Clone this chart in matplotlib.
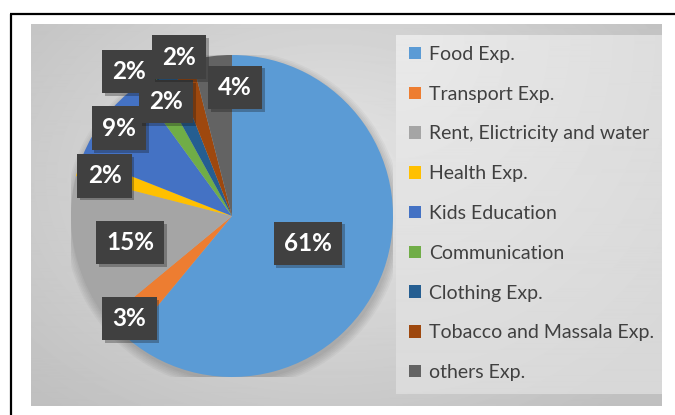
import matplotlib.pyplot as plt
import matplotlib.patheffects as pe
from matplotlib.patches import Patch, Circle
import numpy as np

# household expenditure shares (%)
categories = ["Food Exp.", "Transport Exp.", "Rent, Elictricity and water", "Health Exp.",
              "Kids Education", "Communication", "Clothing Exp.", "Tobacco and Massala Exp.",
              "others Exp."]
shares = [61, 3, 15, 2, 9, 2, 2, 2, 4]
colors = ["#5B9BD5", "#ED7D31", "#A5A5A5", "#FFC000", "#4472C4", "#70AD47", "#255E91",
          "#9E480E", "#636363"]

# where the data labels sit: radius as fraction of pie radius, angle nudge in degrees
label_r = [0.50, 0.90, 0.655, 0.83, 0.89, 1.10, 0.82, 1.04, 0.80]
label_nudge = [0, 0, 2, 0.5, 0, 3, 4.7, 0.4, -8.5]

W, H = 675, 415
fig = plt.figure(figsize=(W / 100, H / 100), dpi=100)

# background layer in pixel coordinates
bg = fig.add_axes([0, 0, 1, 1])
bg.axis("off")

# chart area with a soft radial gradient
yy, xx = np.mgrid[25:406, 31:662]
d = np.hypot((xx - 330) / 430, (yy - 180) / 300)
shade = 0.90 - 0.15 * np.clip(d, 0, 1)
bg.imshow(shade, cmap="gray", vmin=0, vmax=1, extent=(31, 662, 406, 25),
          aspect="auto", interpolation="bilinear", zorder=0)

# legend panel, a bit lighter
yy, xx = np.mgrid[36:394, 396:662]
d = np.hypot((xx - 396) / 380, (yy - 36) / 420)
shade = 0.915 - 0.07 * np.clip(d, 0, 1)
bg.imshow(shade, cmap="gray", vmin=0, vmax=1, extent=(396, 662, 394, 36),
          aspect="auto", interpolation="bilinear", zorder=1)

# outer frame (top and left edges visible)
bg.plot([10, W], [14, 14], color="black", lw=1.6, solid_capstyle="butt", zorder=2)
bg.plot([11, 11], [14, H], color="black", lw=1.6, solid_capstyle="butt", zorder=2)
bg.set_xlim(0, W)
bg.set_ylim(H, 0)

# pie
cx, cy, R = 232, 216, 161
pax = fig.add_axes([(cx - R) / W, (H - cy - R) / H, 2 * R / W, 2 * R / H])
for i in range(6):
    pax.add_patch(Circle((0.01, -0.025), 1 + 0.01 * i, facecolor="black",
                         alpha=0.03, linewidth=0, zorder=0))
wedges, _ = pax.pie(shares, colors=colors, startangle=90, counterclock=False,
                    radius=1, wedgeprops=dict(linewidth=0, zorder=1))
pax.set_xlim(-1, 1)
pax.set_ylim(-1, 1)
pax.axis("off")

for w, v, r, nd in zip(wedges, shares, label_r, label_nudge):
    a = np.deg2rad((w.theta1 + w.theta2) / 2 + nd)
    t = pax.text(r * np.cos(a), r * np.sin(a), f"{v}%", ha="center", va="center",
                 color="white", fontsize=17.5, fontweight="bold", family="Lato",
                 bbox=dict(boxstyle="square,pad=0.42", facecolor="#404040",
                           linewidth=0),
                 zorder=5)
    t.get_bbox_patch().set_path_effects([pe.SimplePatchShadow(offset=(2, -2), alpha=0.3),
                                         pe.Normal()])

# legend
handles = [Patch(facecolor=c, edgecolor="none") for c in colors]
fig.legend(handles, categories, loc="upper left", bbox_to_anchor=(409 / W, 1 - 46 / H),
           frameon=False, prop={"family": "Lato", "size": 14}, labelcolor="#404040",
           handlelength=0.62, handleheight=0.62, handletextpad=0.4,
           labelspacing=1.17, borderpad=0, borderaxespad=0)

fig.savefig("out.png", dpi=100)
